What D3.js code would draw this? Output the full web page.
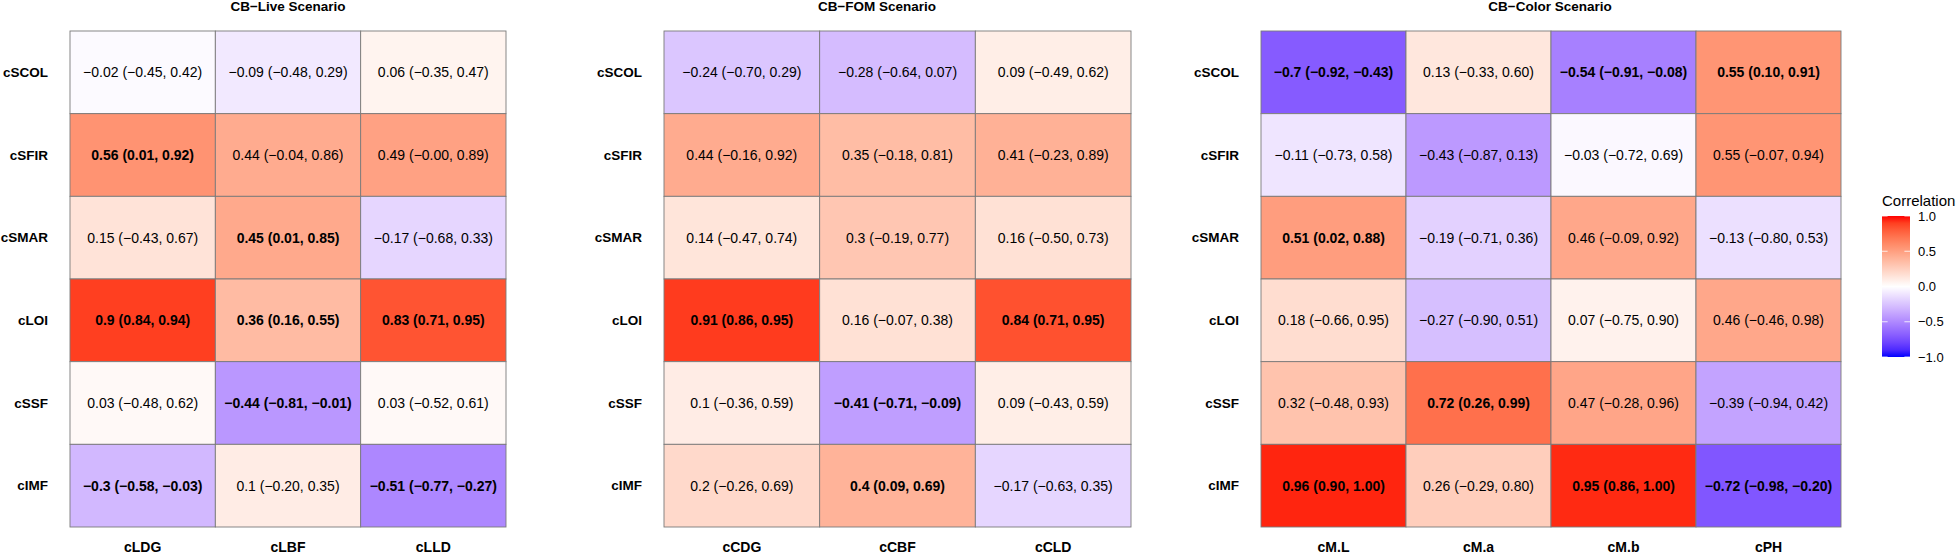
<!DOCTYPE html>
<html>
<head>
<meta charset="utf-8">
<script src="https://cdn.jsdelivr.net/npm/d3@7"></script>
<style>
  body { margin: 0; background: #fff; }
  svg { font-family: "Liberation Sans", Arial, sans-serif; }
</style>
</head>
<body>
<svg id="chart" width="1960" height="555"></svg>
<script>
const rowLabels = ["cSCOL", "cSFIR", "cSMAR", "cLOI", "cSSF", "cIMF"];

// CB-Live
const liveCols = ["cLDG", "cLBF", "cLLD"];
const liveR  = [[-0.02, -0.09, 0.06], [0.56, 0.44, 0.49], [0.15, 0.45, -0.17], [0.9, 0.36, 0.83], [0.03, -0.44, 0.03], [-0.3, 0.1, -0.51]];
const liveLo = [[-0.45, -0.48, -0.35], [0.01, -0.04, -0.001], [-0.43, 0.01, -0.68], [0.84, 0.16, 0.71], [-0.48, -0.81, -0.52], [-0.58, -0.20, -0.77]];
const liveHi = [[0.42, 0.29, 0.47], [0.92, 0.86, 0.89], [0.67, 0.85, 0.33], [0.94, 0.55, 0.95], [0.62, -0.01, 0.61], [-0.03, 0.35, -0.27]];

// CB-FOM
const fomCols = ["cCDG", "cCBF", "cCLD"];
const fomR  = [[-0.24, -0.28, 0.09], [0.44, 0.35, 0.41], [0.14, 0.3, 0.16], [0.91, 0.16, 0.84], [0.1, -0.41, 0.09], [0.2, 0.4, -0.17]];
const fomLo = [[-0.70, -0.64, -0.49], [-0.16, -0.18, -0.23], [-0.47, -0.19, -0.50], [0.86, -0.07, 0.71], [-0.36, -0.71, -0.43], [-0.26, 0.09, -0.63]];
const fomHi = [[0.29, 0.07, 0.62], [0.92, 0.81, 0.89], [0.74, 0.77, 0.73], [0.95, 0.38, 0.95], [0.59, -0.09, 0.59], [0.69, 0.69, 0.35]];

// CB-Color
const colorCols = ["cM.L", "cM.a", "cM.b", "cPH"];
const colorR  = [[-0.7, 0.13, -0.54, 0.55], [-0.11, -0.43, -0.03, 0.55], [0.51, -0.19, 0.46, -0.13], [0.18, -0.27, 0.07, 0.46], [0.32, 0.72, 0.47, -0.39], [0.96, 0.26, 0.95, -0.72]];
const colorLo = [[-0.92, -0.33, -0.91, 0.10], [-0.73, -0.87, -0.72, -0.07], [0.02, -0.71, -0.09, -0.80], [-0.66, -0.90, -0.75, -0.46], [-0.48, 0.26, -0.28, -0.94], [0.90, -0.29, 0.86, -0.98]];
const colorHi = [[-0.43, 0.60, -0.08, 0.91], [0.58, 0.13, 0.69, 0.94], [0.88, 0.36, 0.92, 0.53], [0.95, 0.51, 0.90, 0.98], [0.93, 0.99, 0.96, 0.42], [1.00, 0.80, 1.00, -0.20]];

const legendTicks = [1.0, 0.5, 0.0, -0.5, -1.0];

const svg = d3.select("#chart");
const fill = d3.scaleLinear()
    .domain([-1, 0, 1])
    .range(["#0000ff", "#ffffff", "#ff0000"])
    .interpolate(d3.interpolateLab);

const minus = s => s.replace(/-/g, "\u2212");
const fmtR = v => minus(String(+v.toFixed(2)));
const fmtCI = v => minus(v.toFixed(2));

const panels = [
    { title: "CB\u2212Live Scenario", cols: liveCols, r: liveR, lo: liveLo, hi: liveHi, x0: 70, x1: 506, tx: 288 },
    { title: "CB\u2212FOM Scenario", cols: fomCols, r: fomR, lo: fomLo, hi: fomHi, x0: 664, x1: 1131, tx: 877 },
    { title: "CB\u2212Color Scenario", cols: colorCols, r: colorR, lo: colorLo, hi: colorHi, x0: 1261, x1: 1841, tx: 1550 }
];
const gridTop = 31, gridBottom = 527;

panels.forEach(p => {
    const xScale = d3.scaleBand().domain(p.cols).range([p.x0, p.x1]);
    const yScale = d3.scaleBand().domain(rowLabels).range([gridTop, gridBottom]);
    const g = svg.append("g");

    const cells = [];
    rowLabels.forEach((row, i) => {
        p.cols.forEach((col, j) => {
            cells.push({ row, col, r: p.r[i][j], lo: p.lo[i][j], hi: p.hi[i][j] });
        });
    });

    g.selectAll(".cell")
        .data(cells)
        .enter()
        .append("rect")
        .attr("class", "cell")
        .attr("x", d => xScale(d.col))
        .attr("y", d => yScale(d.row))
        .attr("width", xScale.bandwidth())
        .attr("height", yScale.bandwidth())
        .attr("fill", d => fill(d.r))
        .attr("stroke", "#7a7a7a")
        .attr("stroke-width", 0.9);

    g.selectAll(".lbl")
        .data(cells)
        .enter()
        .append("text")
        .attr("class", "lbl")
        .attr("x", d => xScale(d.col) + xScale.bandwidth() / 2)
        .attr("y", d => yScale(d.row) + yScale.bandwidth() / 2)
        .attr("dy", "0.35em")
        .attr("text-anchor", "middle")
        .attr("font-size", 14)
        .attr("font-weight", d => (d.lo > 0 || d.hi < 0) ? "bold" : "normal")
        .attr("fill", "#000")
        .text(d => `${fmtR(d.r)} (${fmtCI(d.lo)}, ${fmtCI(d.hi)})`);

    // row labels
    g.selectAll(".rowlab")
        .data(rowLabels)
        .enter()
        .append("text")
        .attr("class", "rowlab")
        .attr("x", p.x0 - 22)
        .attr("y", d => yScale(d) + yScale.bandwidth() / 2)
        .attr("dy", "0.35em")
        .attr("text-anchor", "end")
        .attr("font-size", 13.5)
        .attr("font-weight", "bold")
        .text(d => d);

    // column labels
    g.selectAll(".collab")
        .data(p.cols)
        .enter()
        .append("text")
        .attr("class", "collab")
        .attr("x", d => xScale(d) + xScale.bandwidth() / 2)
        .attr("y", gridBottom + 20)
        .attr("dy", "0.35em")
        .attr("text-anchor", "middle")
        .attr("font-size", 14)
        .attr("font-weight", "bold")
        .text(d => d);

    g.append("text")
        .attr("x", p.tx)
        .attr("y", 11)
        .attr("text-anchor", "middle")
        .attr("font-size", 13.5)
        .attr("font-weight", "bold")
        .text(p.title);
});

// legend
const lg = svg.append("g");
const barX = 1882, barW = 28, barTop = 216, barBot = 357;
const ly = d3.scaleLinear().domain([-1, 1]).range([barBot, barTop]);

const grad = svg.append("defs").append("linearGradient")
    .attr("id", "corrgrad")
    .attr("x1", 0).attr("y1", 1).attr("x2", 0).attr("y2", 0);
d3.range(0, 1.0001, 0.05).forEach(t => {
    grad.append("stop")
        .attr("offset", t)
        .attr("stop-color", fill(-1 + 2 * t));
});

lg.append("text")
    .attr("x", barX)
    .attr("y", 206)
    .attr("font-size", 15)
    .text("Correlation");

lg.append("rect")
    .attr("x", barX)
    .attr("y", barTop)
    .attr("width", barW)
    .attr("height", barBot - barTop)
    .attr("fill", "url(#corrgrad)");

lg.selectAll(".tk")
    .data(legendTicks)
    .enter()
    .append("g")
    .attr("class", "tk")
    .each(function (d) {
        const t = d3.select(this);
        t.append("line").attr("x1", barX).attr("x2", barX + 5.6)
            .attr("y1", ly(d)).attr("y2", ly(d)).attr("stroke", "#fff").attr("stroke-width", 0.8);
        t.append("line").attr("x1", barX + barW - 5.6).attr("x2", barX + barW)
            .attr("y1", ly(d)).attr("y2", ly(d)).attr("stroke", "#fff").attr("stroke-width", 0.8);
    });

const axis = lg.append("g")
    .attr("transform", `translate(${barX + barW + 6},0)`)
    .call(d3.axisRight(ly).tickValues(legendTicks).tickSize(0).tickPadding(2).tickFormat(d => minus(d3.format(".1f")(d))));
axis.select(".domain").remove();
axis.selectAll("text")
    .attr("font-size", 13)
    .attr("font-family", "Liberation Sans, Arial, sans-serif")
    .attr("fill", "#000");
</script>
</body>
</html>
